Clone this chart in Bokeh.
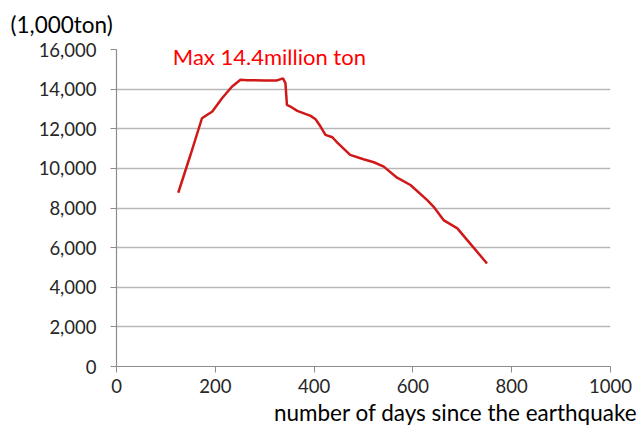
from bokeh.plotting import figure
from bokeh.models import Range1d, FixedTicker, NumeralTickFormatter, Label, Title
from bokeh.embed import file_html
from bokeh.resources import INLINE

days = [125, 150, 173, 194, 214, 234, 251, 265, 300, 325, 337, 342, 345, 352, 366,
        393, 403, 413, 423, 437, 447, 473, 500, 521, 541, 568, 595, 629, 642, 662,
        690, 710, 750]
volume = [8770, 10700, 12530, 12870, 13550, 14130, 14470, 14450, 14440, 14440, 14540,
          14300, 13200, 13120, 12900, 12650, 12480, 12110, 11690, 11570, 11300, 10680,
          10460, 10310, 10090, 9530, 9160, 8400, 8060, 7390, 6970, 6380, 5200]
x_ticks = [0, 200, 400, 600, 800, 1000]
y_ticks = [0, 2000, 4000, 6000, 8000, 10000, 12000, 14000, 16000]

FONT = "Lato"

p = figure(width=643, height=428, output_backend="svg", toolbar_location=None,
           x_range=Range1d(0, 1000), y_range=Range1d(0, 16000),
           min_border_left=116, min_border_right=33, min_border_top=49, min_border_bottom=62)
p.outline_line_color = None
p.xgrid.visible = False
p.ygrid.ticker = FixedTicker(ticks=y_ticks)
p.ygrid.grid_line_color = "#b8b8b8"
p.ygrid.grid_line_width = 1.5

for ax in (p.xaxis[0], p.yaxis[0]):
    ax.axis_line_color = "#8c8c8c"
    ax.axis_line_width = 1.2
    ax.major_tick_line_color = "#8c8c8c"
    ax.major_tick_out = 6
    ax.major_tick_in = 0
    ax.minor_tick_line_color = None
    ax.major_label_text_font = FONT
    ax.major_label_text_font_size = "18.5px"
    ax.major_label_text_color = "#262626"

p.xaxis.ticker = FixedTicker(ticks=x_ticks)
p.yaxis.ticker = FixedTicker(ticks=y_ticks)
p.yaxis.formatter = NumeralTickFormatter(format="0,0")
p.yaxis.major_label_standoff = 14
p.xaxis.major_label_standoff = 6

p.line(days, volume, line_color="#d01818", line_width=2.5)

p.add_layout(Label(x=114, y=15650, text="Max 14.4million ton", text_color="#ff0000",
                   text_font=FONT, text_font_size="22px", text_baseline="middle"))

top_title = Title(text="(1,000ton)", align="left", offset=-106, standoff=20,
                  vertical_align="top",
                  text_font=FONT, text_font_size="22.5px", text_font_style="normal",
                  text_color="#000000")
p.add_layout(top_title, "above")

bottom_title = Title(text="number of days since the earthquake", align="right", offset=-27,
                     standoff=3, text_font=FONT, text_font_size="22.5px",
                     text_font_style="normal", text_color="#000000")
p.add_layout(bottom_title, "below")

open("out.html", "w").write(file_html(p, INLINE))
